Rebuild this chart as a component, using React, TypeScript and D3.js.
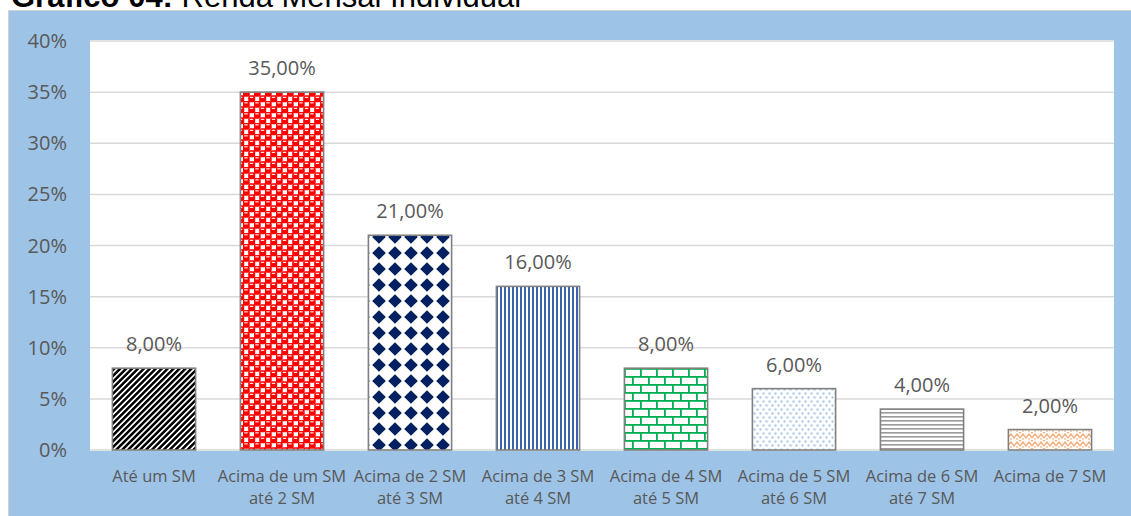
import React from "react";
import * as d3 from "d3";

const categories: string[] = [
  "Até um SM",
  "Acima de um SM\naté 2 SM",
  "Acima de 2 SM\naté 3 SM",
  "Acima de 3 SM\naté 4 SM",
  "Acima de 4 SM\naté 5 SM",
  "Acima de 5 SM\naté 6 SM",
  "Acima de 6 SM\naté 7 SM",
  "Acima de 7 SM",
];
const values: number[] = [8, 35, 21, 16, 8, 6, 4, 2];
const yTicks: number[] = [0, 5, 10, 15, 20, 25, 30, 35, 40];
const patternIds: string[] = ["p0", "p1", "p2", "p3", "p4", "p5", "p6", "p7"];
const titleBold = "Gráfico 04:";
const titleRest = " Renda Mensal Individual";

const W = 1131;
const H = 516;
const plot = { left: 90, right: 1114, top: 41, bottom: 450 };
const FONT = "'Open Sans', 'Noto Sans', sans-serif";
const TXT = "#595959";

export default function App() {
  const x = d3
    .scaleBand<string>()
    .domain(categories)
    .range([plot.left, plot.right])
    .paddingInner(0.35)
    .paddingOuter(0.175);
  const y = d3.scaleLinear().domain([0, 40]).range([plot.bottom, plot.top]);
  const fmt = (v: number) => v.toFixed(2).replace(".", ",") + "%";

  return (
    <svg
      width={W}
      height={H}
      style={{ position: "absolute", left: 0, top: 0, display: "block" }}
    >
      <defs>
        <pattern id="p0" patternUnits="userSpaceOnUse" width={4.2} height={4.2} patternTransform="rotate(45)">
          <rect width={4.2} height={4.2} fill="#fff" />
          <rect width={2.5} height={4.2} fill="#000" />
        </pattern>
        <pattern id="p1" patternUnits="userSpaceOnUse" width={11} height={11} x={1} y={2}>
          <rect width={11} height={11} fill="#fff" />
          <rect x={-0.3} y={-0.3} width={7} height={7} rx={2.2} fill="#ff0000" />
          <rect x={5.2} y={5.2} width={7} height={7} rx={2.2} fill="#ff0000" />
          <rect x={-5.8} y={5.2} width={7} height={7} rx={2.2} fill="#ff0000" />
          <rect x={5.2} y={-5.8} width={7} height={7} rx={2.2} fill="#ff0000" />
          <rect x={1.3} y={1.3} width={3.4} height={1.1} fill="#fff" />
          <rect x={6.8} y={6.8} width={3.4} height={1.1} fill="#fff" />
        </pattern>
        <pattern id="p2" patternUnits="userSpaceOnUse" width={16} height={16} x={3} y={5}>
          <rect width={16} height={16} fill="#fff" />
          <path d="M8,1.2 L14.8,8 L8,14.8 L1.2,8 Z" fill="#002060" />
        </pattern>
        <pattern id="p3" patternUnits="userSpaceOnUse" width={4} height={4}>
          <rect width={4} height={4} fill="#fff" />
          <rect width={2} height={4} fill="#3c64ae" />
        </pattern>
        <pattern id="p4" patternUnits="userSpaceOnUse" width={16} height={16}>
          <rect width={16} height={16} fill="#fff" />
          <rect x={0} y={0} width={16} height={1.8} fill="#00b050" />
          <rect x={0} y={8} width={16} height={1.8} fill="#00b050" />
          <rect x={0} y={0} width={1.8} height={8} fill="#00b050" />
          <rect x={8} y={8} width={1.8} height={8} fill="#00b050" />
        </pattern>
        <pattern id="p5" patternUnits="userSpaceOnUse" width={6} height={8}>
          <rect width={6} height={8} fill="#fff" />
          <rect x={0.5} y={0.5} width={2} height={2} fill="#9dc3e6" />
          <rect x={3.5} y={4.5} width={2} height={2} fill="#9dc3e6" />
        </pattern>
        <pattern id="p6" patternUnits="userSpaceOnUse" width={4} height={4}>
          <rect width={4} height={4} fill="#fff" />
          <rect y={0} width={4} height={1.6} fill="#9a9a9a" />
        </pattern>
        <pattern id="p7" patternUnits="userSpaceOnUse" width={12} height={8}>
          <rect width={12} height={8} fill="#fff" />
          <path d="M0,6 L3,2 L6,6 L9,2 L12,6" fill="none" stroke="#f4b183" strokeWidth={1.4} />
          <path d="M3,6 L3,8 M9,6 L9,8 M0,1 L1,0 M11,0 L12,1" fill="none" stroke="#f4b183" strokeWidth={1.2} />
        </pattern>
      </defs>

      <text x={11} y={7} fontFamily="'Liberation Sans', Arial, sans-serif" fontSize={31} fill="#000">
        <tspan fontWeight="bold">{titleBold}</tspan>
        <tspan>{titleRest}</tspan>
      </text>

      <rect x={9} y={11} width={W - 9} height={H - 11} fill="#9dc3e6" />
      <line x1={8.5} y1={10.5} x2={W} y2={10.5} stroke="#d0d0d0" strokeWidth={1} />
      <line x1={8.5} y1={10.5} x2={8.5} y2={H} stroke="#d0d0d0" strokeWidth={1} />

      <rect
        x={plot.left}
        y={plot.top - 1}
        width={plot.right - plot.left}
        height={plot.bottom - plot.top + 2}
        fill="#fff"
      />

      {yTicks.map((t) => (
        <g key={t}>
          <line
            x1={plot.left}
            x2={plot.right}
            y1={y(t)}
            y2={y(t)}
            stroke="#d9d9d9"
            strokeWidth={1.5}
          />
          <text
            x={67}
            y={y(t)}
            dy="0.35em"
            textAnchor="end"
            fontFamily={FONT}
            fontSize={20}
            fill={TXT}
          >
            {t + "%"}
          </text>
        </g>
      ))}

      {categories.map((c, i) => {
        const bx = x(c) as number;
        const bw = x.bandwidth();
        const top = y(values[i]);
        return (
          <g key={c}>
            <rect
              x={bx}
              y={top}
              width={bw}
              height={plot.bottom - top}
              fill={`url(#${patternIds[i]})`}
              stroke="#808080"
              strokeWidth={1.6}
            />
            <text
              x={bx + bw / 2}
              y={top - 17}
              textAnchor="middle"
              fontFamily={FONT}
              fontSize={20}
              fill={TXT}
            >
              {fmt(values[i])}
            </text>
            {c.split("\n").map((line, j) => (
              <text
                key={j}
                x={bx + bw / 2}
                y={482 + j * 22}
                textAnchor="middle"
                fontFamily={FONT}
                fontSize={16.5}
                fill={TXT}
              >
                {line}
              </text>
            ))}
          </g>
        );
      })}
    </svg>
  );
}
